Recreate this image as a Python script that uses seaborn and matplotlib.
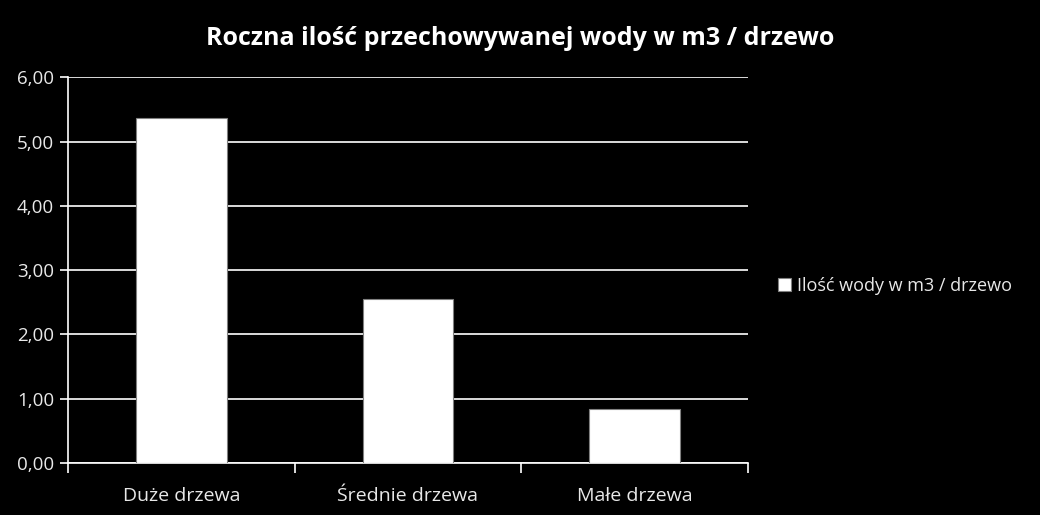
import numpy as np
import pandas as pd
import matplotlib
matplotlib.use("Agg")
import matplotlib.pyplot as plt
from matplotlib.ticker import FuncFormatter, FixedLocator
import seaborn as sns

# data
categories = ["Duże drzewa", "Średnie drzewa", "Małe drzewa"]
values = [5.36, 2.55, 0.84]
series_name = "Ilość wody w m3 / drzewo"
title = "Roczna ilość przechowywanej wody w m3 / drzewo"

df = pd.DataFrame({"kategoria": categories, "woda": values})

sns.set_style("dark")
plt.rcParams["font.family"] = ["Open Sans", "DejaVu Sans"]

txt_col = "#e8e8e8"

fig = plt.figure(figsize=(10.4, 5.15), dpi=100, facecolor="black")
ax = fig.add_axes([0.0654, 0.101, 0.6536, 0.749])
ax.set_facecolor("black")

sns.barplot(data=df, x="kategoria", y="woda", color="white", width=0.4,
            edgecolor="#808080", linewidth=0.8, saturation=1,
            label=series_name, ax=ax, zorder=3)

ax.set_ylim(0, 6)
ax.set_xlim(-0.5, 2.5)
ax.set_yticks(np.arange(0, 7, 1))
ax.yaxis.set_major_formatter(FuncFormatter(lambda v, p: f"{v:.2f}".replace(".", ",")))
ax.grid(axis="y", color="white", linewidth=1.2, zorder=0)
ax.grid(axis="x", visible=False)

for s in ["top", "right"]:
    ax.spines[s].set_visible(False)
for s in ["left", "bottom"]:
    ax.spines[s].set_visible(True)
    ax.spines[s].set_color("white")
    ax.spines[s].set_linewidth(1.2)

ax.tick_params(axis="y", color="white", labelcolor=txt_col, labelsize=13.5,
               length=6, width=1.2, direction="out", left=True, pad=4)
ax.tick_params(axis="x", which="major", labelcolor=txt_col, labelsize=14, length=0, pad=17)
ax.xaxis.set_minor_locator(FixedLocator([-0.5, 0.5, 1.5, 2.5]))
ax.tick_params(axis="x", which="minor", bottom=True, length=7, width=1.2, color="white")

ax.set_xlabel("")
ax.set_ylabel("")

fig.text(0.5, 0.926, title, ha="center", va="center", color="white",
         fontsize=18, fontweight="bold")

leg = ax.legend(loc="center left", bbox_to_anchor=(1.02, 0.46), frameon=False,
                fontsize=13, handlelength=0.75, handleheight=0.75, handletextpad=0.35)
for t in leg.get_texts():
    t.set_color(txt_col)

fig.savefig("out.png", dpi=100, facecolor="black")
